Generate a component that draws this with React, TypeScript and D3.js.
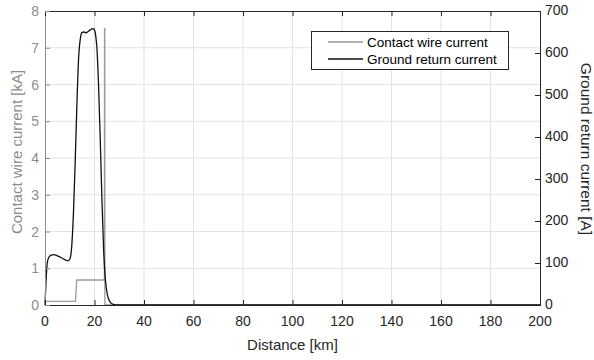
import React, { useEffect, useRef } from 'react'
import * as d3 from 'd3'

// contact wire current [kA] vs distance [km]
const contactKm = [0, 12.3, 12.8, 24.0, 24.05, 24.15, 24.2, 200]
const contactKA = [0.1, 0.1, 0.68, 0.68, 7.52, 7.52, 0, 0]

// ground return current [A] vs distance [km]
const groundKm = [0, 0.4, 0.9, 1.5, 2.5, 3.5, 5, 6.5, 8, 9.3, 10.1, 10.8, 11.5, 12.2, 12.9, 13.6, 14.3, 15, 15.8, 16.6, 17.4, 18.3, 19.2, 19.8, 20.4, 21, 21.6, 22.3, 23, 23.7, 24.4, 25.2, 26, 27, 28.5, 30, 200]
const groundA = [0, 55, 100, 113, 119, 120, 117, 113, 108, 105, 110, 140, 220, 340, 480, 590, 635, 649, 650, 648, 651, 655, 658, 657, 645, 610, 530, 400, 250, 130, 60, 25, 10, 3, 0.5, 0, 0]

const xTicks = d3.range(0, 201, 20)
const leftTicks = d3.range(0, 9, 1)
const rightTicks = d3.range(0, 701, 100)

const legendLabels = ['Contact wire current', 'Ground return current']

export default function App() {
  const ref = useRef<SVGSVGElement>(null)

  useEffect(() => {
    const svg = d3.select(ref.current)
    svg.selectAll('*').remove()

    const left = 45, right = 540, top = 11, bottom = 305
    const x = d3.scaleLinear().domain([0, 200]).range([left, right])
    const yL = d3.scaleLinear().domain([0, 8]).range([bottom, top])
    const yR = d3.scaleLinear().domain([0, 700]).range([bottom, top])
    const font = 'Liberation Sans, Arial, sans-serif'

    svg.append('rect').attr('x', 0).attr('y', 0).attr('width', 594).attr('height', 360).attr('fill', '#fff')

    // grid
    const grid = svg.append('g').attr('stroke', '#e3e3e3').attr('stroke-width', 1)
    xTicks.slice(1, -1).forEach(t => {
      grid.append('line').attr('x1', x(t)).attr('x2', x(t)).attr('y1', top).attr('y2', bottom)
    })
    leftTicks.slice(1, -1).forEach(t => {
      grid.append('line').attr('x1', left).attr('x2', right).attr('y1', yL(t)).attr('y2', yL(t))
    })

    // lines
    const lineC = d3.line<number>().x((d, i) => x(contactKm[i])).y(d => yL(d))
    svg.append('path').attr('d', lineC(contactKA)).attr('fill', 'none')
      .attr('stroke', '#9a9a9a').attr('stroke-width', 1.3)

    const lineG = d3.line<number>().x((d, i) => x(groundKm[i])).y(d => yR(d)).curve(d3.curveMonotoneX)
    svg.append('path').attr('d', lineG(groundA)).attr('fill', 'none')
      .attr('stroke', '#111').attr('stroke-width', 1.3)

    // box
    const dark = '#262626', grey = '#8c8c8c'
    svg.append('line').attr('x1', left).attr('x2', right).attr('y1', top + 0.5).attr('y2', top + 0.5).attr('stroke', dark)
    svg.append('line').attr('x1', left).attr('x2', right).attr('y1', bottom + 0.5).attr('y2', bottom + 0.5).attr('stroke', dark)
    svg.append('line').attr('x1', left + 0.5).attr('x2', left + 0.5).attr('y1', top).attr('y2', bottom + 1).attr('stroke', grey)
    svg.append('line').attr('x1', right + 0.5).attr('x2', right + 0.5).attr('y1', top).attr('y2', bottom + 1).attr('stroke', dark)

    // ticks (inward)
    xTicks.forEach(t => {
      svg.append('line').attr('x1', x(t) + 0.5).attr('x2', x(t) + 0.5).attr('y1', bottom).attr('y2', bottom - 5).attr('stroke', dark)
      svg.append('line').attr('x1', x(t) + 0.5).attr('x2', x(t) + 0.5).attr('y1', top).attr('y2', top + 5).attr('stroke', dark)
      svg.append('text').attr('x', x(t)).attr('y', bottom + 21).attr('text-anchor', 'middle')
        .attr('font-family', font).attr('font-size', 14).attr('fill', dark).text(t)
    })
    leftTicks.forEach(t => {
      svg.append('line').attr('x1', left).attr('x2', left + 5).attr('y1', yL(t) + 0.5).attr('y2', yL(t) + 0.5).attr('stroke', grey)
      svg.append('text').attr('x', left - 6).attr('y', yL(t) + 5).attr('text-anchor', 'end')
        .attr('font-family', font).attr('font-size', 14).attr('fill', grey).text(t)
    })
    rightTicks.forEach(t => {
      svg.append('line').attr('x1', right).attr('x2', right - 5).attr('y1', yR(t) + 0.5).attr('y2', yR(t) + 0.5).attr('stroke', dark)
      svg.append('text').attr('x', right + 5).attr('y', yR(t) + 4).attr('text-anchor', 'start')
        .attr('font-family', font).attr('font-size', 14).attr('fill', dark).text(t)
    })

    // axis titles
    svg.append('text').attr('x', (left + right) / 2).attr('y', 350).attr('text-anchor', 'middle')
      .attr('font-family', font).attr('font-size', 15).attr('fill', dark).text('Distance [km]')
    svg.append('text').attr('transform', 'translate(22,152) rotate(-90)').attr('text-anchor', 'middle')
      .attr('font-family', font).attr('font-size', 15).attr('fill', grey).text('Contact wire current [kA]')
    svg.append('text').attr('transform', 'translate(581,149) rotate(90)').attr('text-anchor', 'middle')
      .attr('font-family', font).attr('font-size', 15.5).attr('fill', dark).text('Ground return current [A]')

    // legend
    const lg = svg.append('g')
    lg.append('rect').attr('x', 311.5).attr('y', 31.5).attr('width', 197).attr('height', 38)
      .attr('fill', '#fff').attr('stroke', dark)
    const colors = ['#9a9a9a', '#111']
    legendLabels.forEach((l, i) => {
      const yy = 42 + i * 17
      lg.append('line').attr('x1', 328).attr('x2', 363).attr('y1', yy).attr('y2', yy)
        .attr('stroke', colors[i]).attr('stroke-width', 1.3)
      lg.append('text').attr('x', 367).attr('y', yy + 5).attr('font-family', font).attr('font-size', 13.5)
        .attr('fill', '#000').text(l)
    })
  }, [])

  return (
    <svg ref={ref} width={594} height={360} style={{ position: 'absolute', left: 0, top: 0 }}></svg>
  )
}
